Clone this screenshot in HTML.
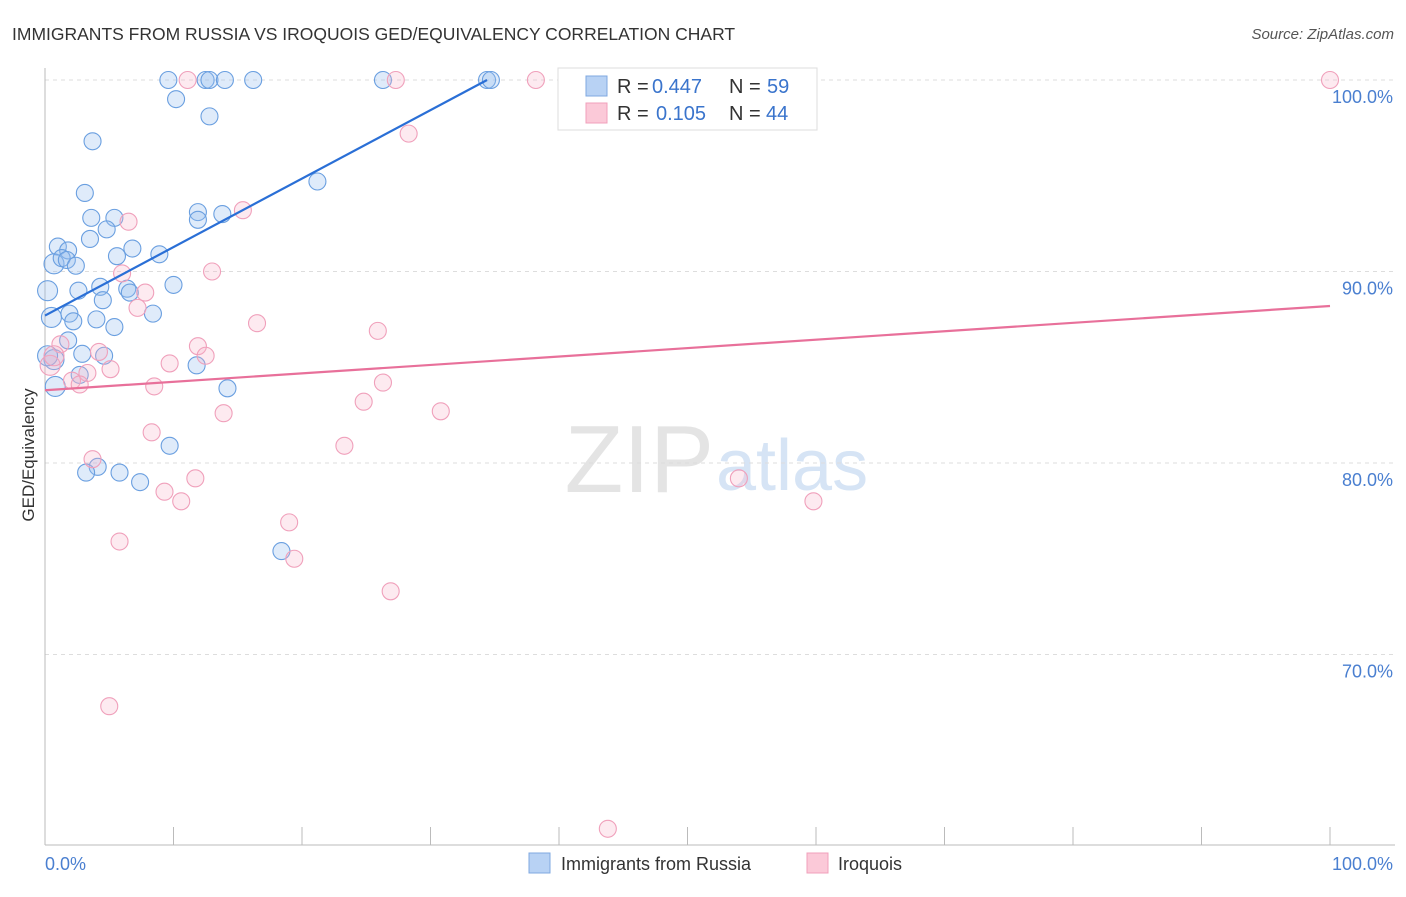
<!DOCTYPE html>
<html><head><meta charset="utf-8"><style>
body{margin:0;background:#fff;font-family:"Liberation Sans",sans-serif}
svg text{font-family:"Liberation Sans",sans-serif}
</style></head><body>
<svg id="chart" width="1406" height="892">
<text x="12" y="40" font-size="17.5" fill="#333">IMMIGRANTS FROM RUSSIA VS IROQUOIS GED/EQUIVALENCY CORRELATION CHART</text>
<text x="1394" y="39" font-size="15" fill="#555" font-style="italic" text-anchor="end">Source: ZipAtlas.com</text>
<text x="714" y="492" font-size="96" fill="#e4e4e4" text-anchor="end" font-family="Liberation Serif">ZIP</text>
<text x="716" y="490" font-size="72" fill="#d6e4f5">atlas</text>
<text transform="translate(34,455) rotate(-90)" font-size="17" fill="#333" text-anchor="middle">GED/Equivalency</text>
<g id="grid"></g><g id="marks"></g>
<g>
<rect x="558" y="68" width="259" height="62" fill="#fff" stroke="#ddd"/>
<rect x="586" y="76" width="21" height="20" fill="#b8d2f4" stroke="#7fa8e0"/>
<rect x="586" y="103" width="21" height="20" fill="#fbc9d8" stroke="#f0a0bb"/>
<text x="617" y="93" font-size="20" fill="#333">R =</text>
<text x="652" y="93" font-size="20" fill="#3a74cc">0.447</text>
<text x="729" y="93" font-size="20" fill="#333">N =</text>
<text x="767" y="93" font-size="20" fill="#3a74cc">59</text>
<text x="617" y="120" font-size="20" fill="#333">R =</text>
<text x="656" y="120" font-size="20" fill="#3a74cc">0.105</text>
<text x="729" y="120" font-size="20" fill="#333">N =</text>
<text x="766" y="120" font-size="20" fill="#3a74cc">44</text>
</g>
<g>
<rect x="529" y="853" width="21" height="20" fill="#b8d2f4" stroke="#7fa8e0"/>
<text x="561" y="870" font-size="18" fill="#333">Immigrants from Russia</text>
<rect x="807" y="853" width="21" height="20" fill="#fbc9d8" stroke="#f0a0bb"/>
<text x="838" y="870" font-size="18" fill="#333">Iroquois</text>
</g>
</svg>
<script>
const xTicks=[0,10,20,30,40,50,60,70,80,90,100];
const yTicks=[100,90,80,70];
const yTickLabels=["100.0%","90.0%","80.0%","70.0%"];
const blueX=[9.6,12.5,12.8,14.0,16.2,26.3,34.4,34.7,10.2,12.8,3.7,21.2,3.1,3.6,5.4,11.9,13.8,11.9,4.8,3.5,1.0,1.8,6.8,0.7,1.3,1.7,2.4,5.6,8.9,0.2,2.6,4.3,6.4,10.0,4.5,6.6,1.9,8.4,0.5,2.2,4.0,5.4,1.8,2.9,4.6,11.8,0.7,2.7,0.8,14.2,9.7,4.1,3.2,5.8,7.4,18.4,0.2];
const blueY=[100,100,100,100,100,100,100,100,99.0,98.1,96.8,94.7,94.1,92.8,92.8,93.1,93.0,92.7,92.2,91.7,91.3,91.1,91.2,90.4,90.7,90.6,90.3,90.8,90.9,89.0,89.0,89.2,89.1,89.3,88.5,88.9,87.8,87.8,87.6,87.4,87.5,87.1,86.4,85.7,85.6,85.1,85.4,84.6,84.0,83.9,80.9,79.8,79.5,79.5,79.0,75.4,85.6];
const pinkX=[11.1,27.3,38.2,100,28.3,6.5,15.4,13.0,6.0,7.8,7.2,16.5,25.9,1.2,4.2,11.9,12.5,9.7,5.1,3.3,0.4,2.1,2.7,8.5,26.3,24.8,13.9,30.8,8.3,23.3,3.7,11.7,9.3,10.6,19.0,54.0,59.8,5.8,19.4,26.9,5.0,43.8,0.7];
const pinkY=[100,100,100,100,97.2,92.6,93.2,90.0,89.9,88.9,88.1,87.3,86.9,86.2,85.8,86.1,85.6,85.2,84.9,84.7,85.1,84.3,84.1,84.0,84.2,83.2,82.6,82.7,81.6,80.9,80.2,79.2,78.5,78.0,76.9,79.2,78.0,75.9,75.0,73.3,67.3,60.9,85.6];
const blueTrend=[0,87.7,34.4,100];
const pinkTrend=[0,83.8,100,88.2];
const X=v=>45+v*12.85, Y=v=>80+(100-v)*19.15;
const NS="http://www.w3.org/2000/svg";
const grid=document.getElementById('grid'), marks=document.getElementById('marks');
function mk(tag,attrs,parent){const e=document.createElementNS(NS,tag);for(const k in attrs)e.setAttribute(k,attrs[k]);parent.appendChild(e);return e;}
yTicks.forEach((t,i)=>{
 const l=mk('line',{x1:45,x2:1395,y1:Y(t),y2:Y(t),stroke:'#ddd','stroke-dasharray':'4,4'},grid);
 
 
 const tx=mk('text',{x:1393,y:Y(t)+23,'font-size':18,fill:'#4a7fd0','text-anchor':'end'},grid);
 tx.textContent=yTickLabels[i];
 
 
});
const ax=mk('line',{x1:45,x2:45,y1:68,y2:845,stroke:'#bbb'},grid);


const bx=mk('line',{x1:45,x2:1395,y1:845,y2:845,stroke:'#bbb'},grid);


xTicks.forEach(t=>{
 const l=mk('line',{x1:X(t),x2:X(t),y1:827,y2:845,stroke:'#bbb'},grid);
 
 
});
[[0,'0.0%','start',45],[100,'100.0%','end',1393]].forEach(a=>{
 const tx=mk('text',{x:a[3],y:870,'font-size':18,fill:'#4a7fd0','text-anchor':a[2]},grid);
 tx.textContent=a[1];
 
 
});
function dots(xs,ys,fill,stroke,name){xs.forEach((x,i)=>{
 const r=x<1.0?10:8.5;
 const c=mk('circle',{cx:X(x),cy:Y(ys[i]),r:r,fill:fill,stroke:stroke,'stroke-width':1.1},marks);
 
 
});}
dots(blueX,blueY,'rgba(150,190,240,0.3)','#6a9fe0','russia-point');
dots(pinkX,pinkY,'rgba(248,180,200,0.28)','#f0a0bb','iroquois-point');
const bl=mk('line',{x1:X(blueTrend[0]),y1:Y(blueTrend[1]),x2:X(blueTrend[2]),y2:Y(blueTrend[3]),stroke:'#2a6fd6','stroke-width':2.2},marks);


const pl=mk('line',{x1:X(pinkTrend[0]),y1:Y(pinkTrend[1]),x2:X(pinkTrend[2]),y2:Y(pinkTrend[3]),stroke:'#e8709a','stroke-width':2.2},marks);


</script>
</body></html>
